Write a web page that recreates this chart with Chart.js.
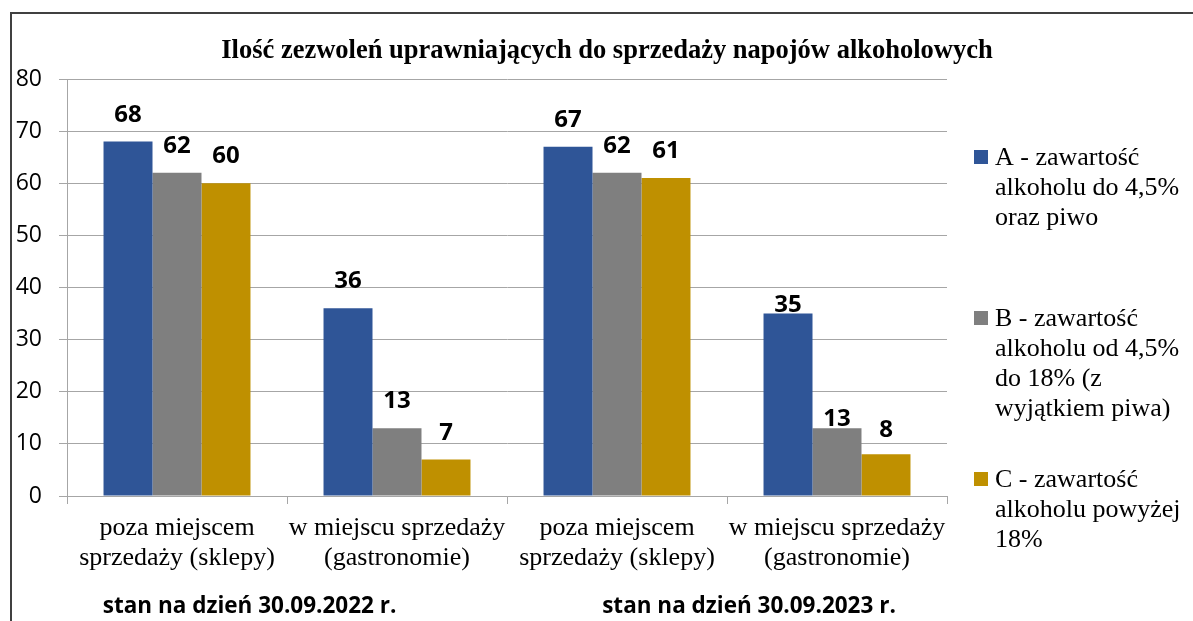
<!DOCTYPE html>
<html>
<head>
<meta charset="utf-8">
<script src="https://cdn.jsdelivr.net/npm/chart.js@4.4.1/dist/chart.umd.min.js"></script>
<style>
  body { margin: 0; background: #fff; }
  #wrap { position: relative; width: 1193px; height: 621px; overflow: hidden; }
  #frame { position: absolute; left: 10px; top: 12px; width: 1200px; height: 620px;
           border-left: 2px solid #404040; border-top: 2px solid #404040; }
  canvas { position: absolute; left: 0; top: 0; }
</style>
</head>
<body>
<div id="wrap">
  <div id="frame"></div>
  <canvas id="myChart" width="1193" height="621"></canvas>
</div>
<script>
// dane
const categories = [
  ["poza miejscem", "sprzedaży (sklepy)"],
  ["w miejscu sprzedaży", "(gastronomie)"],
  ["poza miejscem", "sprzedaży (sklepy)"],
  ["w miejscu sprzedaży", "(gastronomie)"]
];
const periods = ["stan na dzień 30.09.2022 r.", "stan na dzień 30.09.2023 r."];
const seriesA = [68, 36, 67, 35];
const seriesB = [62, 13, 62, 13];
const seriesC = [60, 7, 61, 8];
const legendA = ["A - zawartość", "alkoholu do 4,5%", "oraz piwo"];
const legendB = ["B - zawartość", "alkoholu od 4,5%", "do 18% (z", "wyjątkiem piwa)"];
const legendC = ["C - zawartość", "alkoholu powyżej", "18%"];
const yMin = 0, yMax = 80, yStep = 10;
const title = "Ilość zezwoleń uprawniających do sprzedaży napojów alkoholowych";

const colors = ["#2F5597", "#7F7F7F", "#BF9000"];
// odstęp etykiety nad słupkiem (px), jak w oryginale
const labelGap = [[20, 20, 20, 2], [20, 20, 20, 2], [20, 20, 20, 17]];
// położenie podpisów okresów (w jednostkach kategorii)
const periodAt = [0.33, 2.6];
const serif = "'Liberation Serif', 'Times New Roman', serif";
const sans = "'Open Sans', sans-serif";

// tytuł, etykiety wartości, legenda i podpisy okresów
const extras = {
  id: "extras",
  afterDraw(chart) {
    const c = chart.ctx;
    const x = chart.scales.x;
    c.save();
    c.fillStyle = "#000";
    c.textAlign = "center";
    c.textBaseline = "alphabetic";

    c.font = "bold 26.5px " + serif;
    c.fillText(title, 607, 58);

    // wartości nad słupkami
    c.font = "bold 24px " + sans;
    chart.data.datasets.forEach((ds, i) => {
      chart.getDatasetMeta(i).data.forEach((bar, j) => {
        c.fillText(ds.data[j], bar.x, bar.y - labelGap[i][j]);
      });
    });

    // okresy pod osią
    c.font = "bold 22.5px " + sans;
    periods.forEach((p, k) => {
      c.fillText(p, x.getPixelForValue(periodAt[k]), 613);
    });

    // legenda
    c.textAlign = "left";
    c.font = "26px " + serif;
    chart.data.datasets.forEach((ds, i) => {
      const base = 165 + 161 * i;
      c.fillStyle = ds.backgroundColor;
      c.fillRect(974, base - 15, 14, 14);
      c.fillStyle = "#000";
      ds.legendLines.forEach((line, l) => c.fillText(line, 995, base + 30 * l));
    });
    c.restore();
  }
};

const ctx = document.getElementById("myChart").getContext("2d");
new Chart(ctx, {
  type: "bar",
  data: {
    labels: categories,
    datasets: [
      { label: legendA.join(" "), legendLines: legendA, data: seriesA, backgroundColor: colors[0] },
      { label: legendB.join(" "), legendLines: legendB, data: seriesB, backgroundColor: colors[1] },
      { label: legendC.join(" "), legendLines: legendC, data: seriesC, backgroundColor: colors[2] }
    ]
  },
  options: {
    responsive: false,
    animation: false,
    layout: { padding: { top: 79, right: 246, left: 0, bottom: 0 } },
    datasets: { bar: { categoryPercentage: 0.668, barPercentage: 1 } },
    plugins: { legend: { display: false }, title: { display: false }, tooltip: { enabled: false } },
    scales: {
      x: {
        afterFit: (s) => { s.height = 125; },
        grid: { offset: true, drawOnChartArea: false, drawTicks: true, tickLength: 8, color: "#A6A6A6" },
        border: { color: "#A6A6A6" },
        ticks: { color: "#000", font: { family: serif, size: 26, lineHeight: 1.15 }, padding: 9, maxRotation: 0, autoSkip: false }
      },
      y: {
        min: yMin, max: yMax,
        afterFit: (s) => { s.width = 67; },
        grid: { color: "#A6A6A6", tickLength: 8 },
        border: { color: "#A6A6A6" },
        ticks: { stepSize: yStep, color: "#000", font: { family: sans, size: 23 }, padding: 17 }
      }
    }
  },
  plugins: [extras]
});
</script>
</body>
</html>
